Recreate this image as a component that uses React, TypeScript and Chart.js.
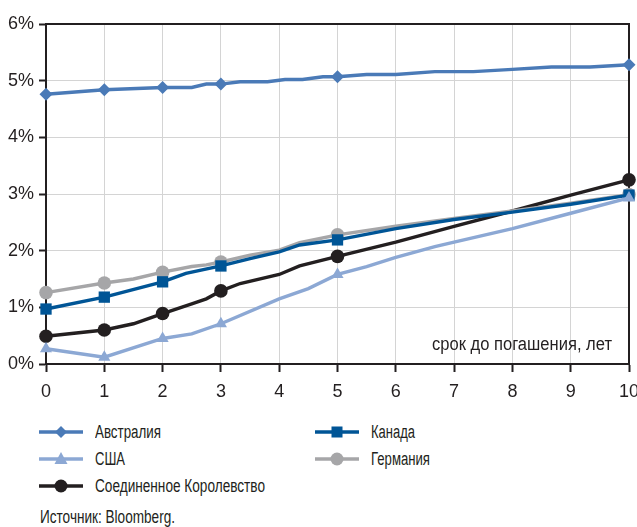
import React, { useEffect, useRef } from "react";
import { Chart, registerables } from "chart.js";

Chart.register(...registerables);

const FONT = "'Liberation Sans', Arial, sans-serif";
const TEXT = "#231f20";

// Yield curves (maturity in years, yield in %)
const ausX = [0, 1, 2, 2.5, 2.75, 3, 3.33, 3.8, 4.1, 4.4, 4.75, 5, 5.5, 6, 6.67, 7.33, 8, 8.67, 9.33, 10];
const ausY = [4.76, 4.84, 4.88, 4.88, 4.94, 4.94, 4.98, 4.98, 5.02, 5.02, 5.07, 5.07, 5.11, 5.11, 5.16, 5.16, 5.2, 5.24, 5.24, 5.28];

const usX = [0, 1, 2, 2.5, 3, 4, 4.5, 5, 5.5, 6, 6.67, 7, 8, 9, 10];
const usY = [0.27, 0.12, 0.45, 0.53, 0.71, 1.15, 1.33, 1.58, 1.72, 1.88, 2.07, 2.15, 2.39, 2.66, 2.93];

const ukX = [0, 1, 1.5, 2, 2.5, 2.75, 3, 3.33, 4, 4.35, 5, 6, 7, 8, 9, 10];
const ukY = [0.49, 0.6, 0.71, 0.89, 1.06, 1.15, 1.29, 1.42, 1.58, 1.73, 1.9, 2.15, 2.43, 2.7, 2.98, 3.25];

const canX = [0, 1, 2, 2.4, 3, 3.5, 4, 4.35, 5, 6, 7, 8, 9, 10];
const canY = [0.97, 1.18, 1.45, 1.6, 1.73, 1.86, 1.98, 2.1, 2.19, 2.39, 2.55, 2.68, 2.82, 2.98];

const gerX = [0, 1, 1.5, 2, 2.5, 2.75, 3, 3.5, 4, 4.35, 5, 6, 7, 8, 9, 10];
const gerY = [1.26, 1.43, 1.5, 1.62, 1.72, 1.75, 1.8, 1.92, 2.01, 2.14, 2.28, 2.43, 2.57, 2.7, 2.84, 2.99];

const markerTerms = [0, 1, 2, 3, 5, 10];
const xTicks = [0, 1, 2, 3, 4, 5, 6, 7, 8, 9, 10];
const yTicks = [0, 1, 2, 3, 4, 5, 6];
const axisTitle = "срок до погашения, лет";
const source = "Источник: Bloomberg.";

type S = { name: string; xs: number[]; ys: number[]; color: string; style: string; r: number; col: number };
const series: S[] = [
  { name: "Австралия", xs: ausX, ys: ausY, color: "#4a7ab7", style: "rectRot", r: 6.5, col: 0 },
  { name: "США", xs: usX, ys: usY, color: "#8ca8d4", style: "triangle", r: 7, col: 0 },
  { name: "Соединенное Королевство", xs: ukX, ys: ukY, color: "#231f20", style: "circle", r: 6.8, col: 0 },
  { name: "Канада", xs: canX, ys: canY, color: "#005596", style: "rect", r: 8, col: 1 },
  { name: "Германия", xs: gerX, ys: gerY, color: "#a6a6a8", style: "circle", r: 6.8, col: 1 },
];
const drawOrder = [0, 1, 3, 4, 2];

function LegendIcon({ s }: { s: S }) {
  const cx = 22, cy = 7;
  let m: React.ReactNode = null;
  if (s.style === "rectRot") m = <polygon points={`${cx - 6},${cy} ${cx},${cy - 6} ${cx + 6},${cy} ${cx},${cy + 6}`} fill={s.color} />;
  else if (s.style === "triangle") m = <polygon points={`${cx},${cy - 7} ${cx + 6.5},${cy + 5} ${cx - 6.5},${cy + 5}`} fill={s.color} />;
  else if (s.style === "rect") m = <rect x={cx - 5.5} y={cy - 5.5} width={11} height={11} fill={s.color} />;
  else m = <circle cx={cx} cy={cy} r={6.5} fill={s.color} />;
  return (
    <svg width={44} height={14} style={{ position: "absolute", left: 0, top: 0, overflow: "visible" }}>
      <line x1={0} y1={cy} x2={44} y2={cy} stroke={s.color} strokeWidth={3.5} />
      {m}
    </svg>
  );
}

function Label({ text, left, top, width }: { text: string; left: number; top: number; width: number }) {
  const ref = useRef<HTMLSpanElement | null>(null);
  useEffect(() => {
    const el = ref.current;
    if (!el) return;
    el.style.transform = "none";
    const w = el.getBoundingClientRect().width;
    if (w > 0) el.style.transform = `scaleX(${width / w})`;
  }, [text, width]);
  return (
    <span
      ref={ref}
      style={{ position: "absolute", left, top, fontSize: 18, lineHeight: "20px", whiteSpace: "nowrap", transformOrigin: "0 0", display: "inline-block" }}
    >
      {text}
    </span>
  );
}

export default function App() {
  const ref = useRef<HTMLCanvasElement | null>(null);
  useEffect(() => {
    if (!ref.current) return;
    const frame = {
      id: "frame",
      beforeDatasetsDraw(chart: any) {
        const { ctx, chartArea: a } = chart;
        ctx.save();
        ctx.strokeStyle = TEXT;
        ctx.lineWidth = 2;
        ctx.beginPath();
        ctx.moveTo(a.left, a.top);
        ctx.lineTo(a.right, a.top);
        ctx.lineTo(a.right, a.bottom);
        ctx.stroke();
        ctx.fillStyle = TEXT;
        ctx.font = `18px ${FONT}`;
        ctx.textAlign = "right";
        ctx.textBaseline = "middle";
        ctx.fillText(axisTitle, a.right - 17, a.bottom - 19, 180);
        ctx.restore();
      },
    };
    const chart = new Chart(ref.current, {
      type: "line",
      data: {
        datasets: drawOrder.map((i) => {
          const s = series[i];
          return {
            label: s.name,
            data: s.xs.map((x, k) => ({ x, y: s.ys[k] })),
            borderColor: s.color,
            backgroundColor: s.color,
            borderWidth: 3.4,
            pointStyle: s.style as any,
            pointRadius: (c: any) => (markerTerms.includes(s.xs[c.dataIndex]) ? s.r : 0),
            pointBorderWidth: 0,
            pointHoverRadius: 0,
            tension: 0,
            clip: false as any,
          };
        }),
      },
      options: {
        animation: false,
        responsive: false,
        events: [],
        layout: { padding: { top: 24, left: 0, right: 0, bottom: 0 } },
        plugins: { legend: { display: false }, tooltip: { enabled: false } },
        scales: {
          x: {
            type: "linear",
            min: 0,
            max: 10,
            afterBuildTicks: (sc: any) => { sc.ticks = xTicks.map((v) => ({ value: v })); },
            afterFit: (sc: any) => { sc.height = 36; sc.paddingRight = 8; sc.paddingLeft = 0; },
            grid: { color: "#d4d4d4", lineWidth: 1, tickColor: TEXT, tickLength: 8, tickWidth: 2 },
            border: { color: TEXT, width: 2 },
            ticks: { color: TEXT, font: { family: FONT, size: 18 }, padding: 9, maxRotation: 0, callback: (v: any) => String(v) },
          },
          y: {
            min: 0,
            max: 6,
            afterBuildTicks: (sc: any) => { sc.ticks = yTicks.map((v) => ({ value: v })); },
            afterFit: (sc: any) => { sc.width = 46; },
            grid: { color: "#d4d4d4", lineWidth: 1, tickColor: TEXT, tickLength: 7, tickWidth: 2 },
            border: { color: TEXT, width: 2 },
            ticks: { color: TEXT, font: { family: FONT, size: 18 }, padding: 5, callback: (v: any) => v + "%" },
          },
        },
      },
      plugins: [frame],
    });
    return () => chart.destroy();
  }, []);

  const rowY = [424, 451, 478];
  const colX = [[39, 95], [315, 371]];
  const widths: Record<string, number> = {
    "Австралия": 66,
    "США": 30,
    "Соединенное Королевство": 170,
    "Канада": 44,
    "Германия": 59,
  };
  const counts = [0, 0];
  return (
    <div style={{ position: "absolute", left: 0, top: 0, width: 637, height: 527, background: "#fff", fontFamily: FONT, color: TEXT }}>
      <canvas ref={ref} width={637} height={400} style={{ display: "block", width: 637, height: 400 }} />
      {series.map((s) => {
        const row = counts[s.col]++;
        const y = rowY[row];
        return (
          <div key={s.name}>
            <div style={{ position: "absolute", left: colX[s.col][0], top: y + 1, width: 44, height: 14 }}>
              <LegendIcon s={s} />
            </div>
            <Label text={s.name} left={colX[s.col][1]} top={y - 2} width={widths[s.name]} />
          </div>
        );
      })}
      <Label text={source} left={40} top={507} width={135} />
    </div>
  );
}
